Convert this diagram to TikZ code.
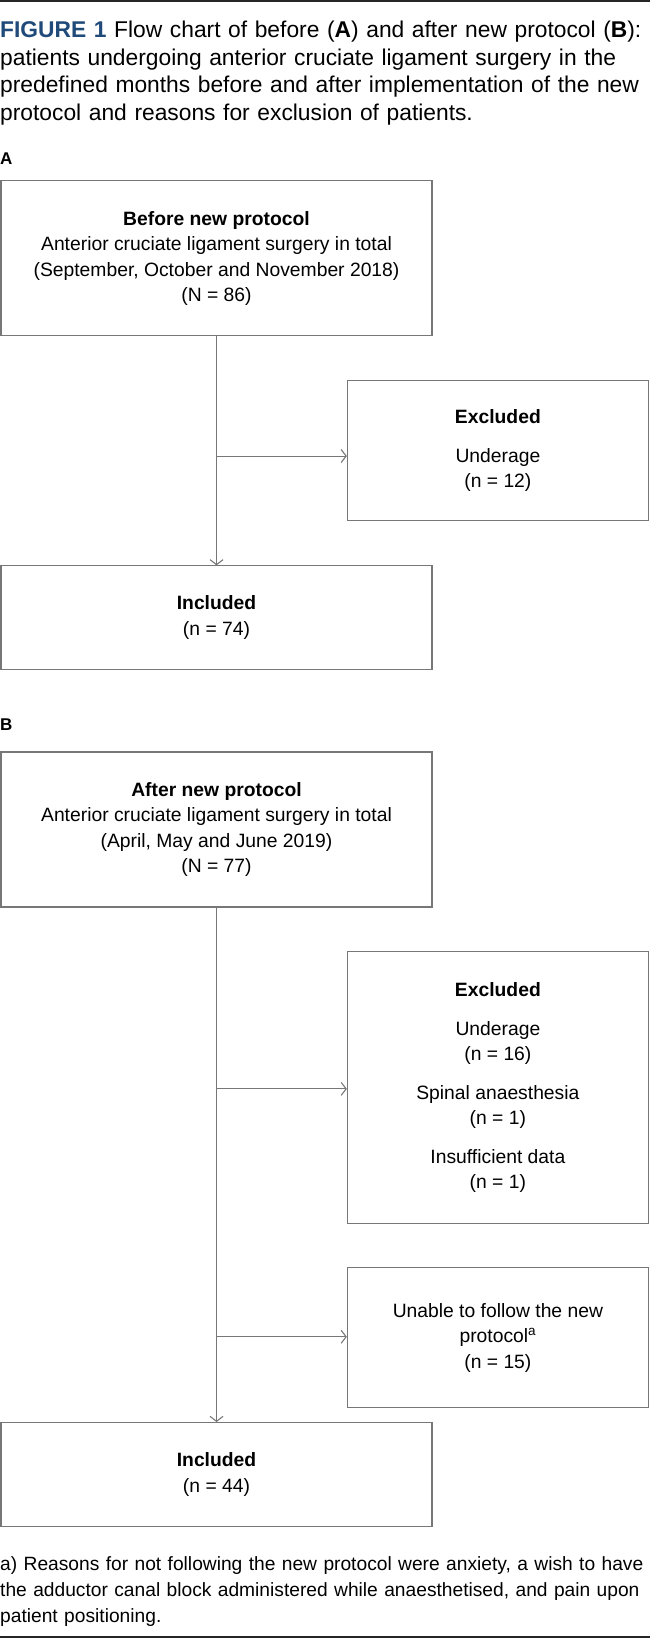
\documentclass[tikz,border=0pt]{standalone}
\usepackage{fontspec}
\setmainfont{Liberation Sans}
\usetikzlibrary{arrows.meta}
\definecolor{ttl}{HTML}{1F4A7A}
\definecolor{ln}{HTML}{777777}
\begin{document}
\begin{tikzpicture}[x=1.046pt,y=-1.046pt,
  box/.style={draw=ln,line width=1.1pt,inner sep=0pt,align=center,
    font=\fontsize{19.3}{25.5}\selectfont},
  txt/.style={inner sep=0pt,align=left,anchor=north west},
  arr/.style={draw=ln,line width=1.1pt,-{Straight Barb[length=5pt,width=13pt]}}]
\useasboundingbox (0,0) rectangle (621.4,1567.9);
\draw[line width=1.8pt,black!85] (0,1) -- (621.4,1) coordinate (tr);
\node[txt,font=\fontsize{22.8}{27.5}\selectfont,text width=700pt] (title) at (0,20)
 {{\color{ttl}\textbf{FIGURE 1}} Flow chart of before (\textbf{A}) and after new protocol (\textbf{B}):\\
 patients undergoing anterior cruciate ligament surgery in the\\
 predefined months before and after implementation of the new\\
 protocol and reasons for exclusion of patients.};
\node[txt,anchor=west,font=\fontsize{17}{20}\bfseries] (la) at (0,152) {A};
\node[box,minimum width=431pt,minimum height=155pt] (a1) at (207,247)
 {\textbf{Before new protocol}\\Anterior cruciate ligament surgery in total\\(September, October and November 2018)\\(N = 86)};
\node[box,minimum width=301pt,minimum height=140pt] (ax) at (476,431)
 {\textbf{Excluded}\\[13pt]Underage\\(n = 12)};
\node[box,minimum width=431pt,minimum height=103.5pt] (ai) at (207,590.5)
 {\textbf{Included}\\(n = 74)};
\coordinate (aj) at (207,436);
\draw[ln,line width=1.1pt] (a1.south) -- (aj);
\draw[arr] (aj) -- (aj -| ax.west);
\draw[arr] (aj) -- (ai.north);
\node[txt,anchor=west,font=\fontsize{17}{20}\bfseries] (lb) at (0,693) {B};
\node[box,minimum width=431pt,minimum height=155pt] (b1) at (207,793)
 {\textbf{After new protocol}\\Anterior cruciate ligament surgery in total\\(April, May and June 2019)\\(N = 77)};
\node[box,minimum width=301pt,minimum height=272pt] (bx) at (476,1040)
 {\textbf{Excluded}\\[13pt]Underage\\(n = 16)\\[13pt]Spinal anaesthesia\\(n = 1)\\[13pt]Insufficient data\\(n = 1)};
\node[box,minimum width=301pt,minimum height=140pt] (bu) at (476,1279)
 {Unable to follow the new\\protocol\textsuperscript{a}\\(n = 15)};
\node[box,minimum width=431pt,minimum height=103.5pt] (bi) at (207,1409.5)
 {\textbf{Included}\\(n = 44)};
\coordinate (bj1) at (207,1041);
\coordinate (bj2) at (207,1278);
\draw[ln,line width=1.1pt] (b1.south) -- (bj1);
\draw[arr] (bj1) -- (bj1 -| bx.west);
\draw[arr] (bj2) -- (bj2 -| bu.west);
\draw[arr] (b1.south) -- (bi.north);
\node[txt,font=\fontsize{19.2}{26}\selectfont,text width=700pt] (fn) at (0,1488)
 {a) Reasons for not following the new protocol were anxiety, a wish to have\\
 the adductor canal block administered while anaesthetised, and pain upon\\
 patient positioning.};
\draw[line width=1.8pt,black!85] (0,1565) -- (621.4,1565) coordinate (br);
\end{tikzpicture}
\end{document}
